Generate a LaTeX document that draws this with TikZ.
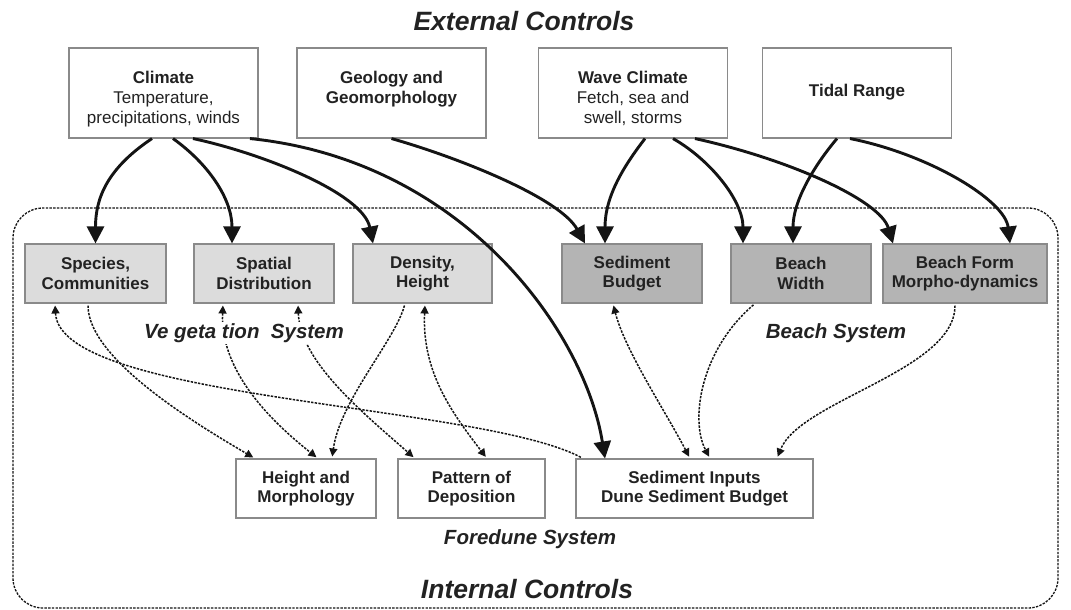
\documentclass[tikz,border=0pt]{standalone}
\usepackage{fontspec}
\setmainfont{Liberation Sans}
\usetikzlibrary{arrows.meta}

\definecolor{txt}{HTML}{222222}
\definecolor{ink}{HTML}{141414}
\definecolor{boxline}{HTML}{8A8A8A}
\definecolor{veggray}{HTML}{DCDCDC}
\definecolor{beachgray}{HTML}{B4B4B4}

\begin{document}
\begin{tikzpicture}[x=1pt,y=-1pt,
  box/.style={draw=boxline, line width=1.1pt, align=center, inner sep=0pt, text=txt},
  ext/.style={box, fill=white, minimum width=189pt, minimum height=90pt},
  exttext/.style={align=center, inner sep=0pt, text=txt, anchor=north,
    font=\fontsize{17}{20}\selectfont},
  veg/.style={box, fill=veggray, minimum height=59pt,
    font=\fontsize{17}{19.5}\selectfont\bfseries},
  bch/.style={veg, fill=beachgray},
  fdn/.style={veg, fill=white},
  sys/.style={font=\fontsize{20.5}{24}\selectfont\bfseries\itshape, text=txt, inner sep=1pt},
  ttl/.style={font=\fontsize{26.5}{30}\selectfont\bfseries\itshape, text=txt},
  strong/.style={draw=ink, line width=2.9pt, >={Triangle[length=17pt,width=17pt]}, ->},
  weak/.style={draw=ink, line width=1.5pt, dash pattern=on 2.4pt off 1.3pt,
    >={Triangle[length=8pt,width=8pt]}, shorten >=2pt, shorten <=2pt},
  zone/.style={draw=ink, line width=1.3pt, dash pattern=on 2.4pt off 1.3pt}
]
\useasboundingbox (0,0) rectangle (1071,610);

% internal controls region
\draw[zone, rounded corners=30pt] (13,208) rectangle (1058,608);

% external controls
\node[ext] (clim) at (163.5,93) {};
\node[ext] (geol) at (391.5,93) {};
\node[ext] (wave) at (633,93) {};
\node[ext] (tide) at (857,93) {};
\node[exttext] (climt) at ([yshift=-24pt]clim.north) {\textbf{Climate}\\Temperature,\\precipitations, winds};
\node[exttext] (geolt) at ([yshift=-24pt]geol.north) {\textbf{Geology and}\\\textbf{Geomorphology}};
\node[exttext] (wavet) at ([yshift=-24pt]wave.north) {\textbf{Wave Climate}\\Fetch, sea and\\swell, storms};
\node[exttext, anchor=center] (tidet) at ([yshift=1pt]tide.center) {\textbf{Tidal Range}};

% vegetation system
\node[veg, minimum width=141pt] (spec) at (95.5,273.5) {Species,\\Communities};
\node[veg, minimum width=140pt] (spat) at (264,273.5) {Spatial\\Distribution};
\node[veg, minimum width=139pt] (dens) at (422.5,273.5) {Density,\\Height};

% beach system
\node[bch, minimum width=140pt] (sbud) at (632,273.5) {Sediment\\Budget};
\node[bch, minimum width=140pt] (bwid) at (801,273.5) {Beach\\Width};
\node[bch, minimum width=164pt] (bfrm) at (965,273.5) {Beach Form\\Morpho-dynamics};

% foredune system
\node[fdn, minimum width=140pt] (hmor) at (306,488.5) {Height and\\Morphology};
\node[fdn, minimum width=147pt] (patt) at (471.5,488.5) {Pattern of\\Deposition};
\node[fdn, minimum width=237pt] (sinp) at (694.5,488.5) {Sediment Inputs\\Dune Sediment Budget};

% external forcing
\draw[strong] ([xshift=-11.5pt]clim.south) .. controls +(-45,30) and +(0,-45) .. (spec.north);
\draw[strong] ([xshift=9.5pt]clim.south) .. controls +(35,25) and +(0,-45) .. ([xshift=-32pt]spat.north);
\draw[strong] ([xshift=29.5pt]clim.south) .. controls +(70,15) and +(-10,-50) .. ([xshift=-49.5pt]dens.north);
\draw[strong] ([xshift=86.5pt]clim.south) .. controls +(215,22) and +(-20,-125) .. ([xshift=-89.5pt]sinp.north);
\draw[strong] (geol.south) .. controls +(70,20) and +(-25,-45) .. ([xshift=-47pt]sbud.north);
\draw[strong] ([xshift=12pt]wave.south) .. controls +(-20,26) and +(0,-48) .. ([xshift=-27pt]sbud.north);
\draw[strong] ([xshift=40pt]wave.south) .. controls +(37,21) and +(0,-43) .. ([xshift=-58pt]bwid.north);
\draw[strong] ([xshift=62pt]wave.south) .. controls +(95,21) and +(-13,-43) .. ([xshift=-72pt]bfrm.north);
\draw[strong] ([xshift=-20pt]tide.south) .. controls +(-22,26) and +(0,-43) .. ([xshift=-8pt]bwid.north);
\draw[strong] ([xshift=-7pt]tide.south) .. controls +(80,16) and +(-5,-43) .. ([xshift=45pt]bfrm.north);

% internal interactions
\draw[weak, ->] ([xshift=-7.5pt]spec.south) .. controls +(0,55) and +(-60,-35) .. ([xshift=-51pt]hmor.north);
\draw[weak, <-] ([xshift=-40.5pt]spec.south) .. controls +(5,97) and +(-103,-55) .. ([xshift=-111.5pt]sinp.north);
\draw[weak, <->] ([xshift=-41pt]spat.south) .. controls +(-3,67) and +(-48,-38) .. ([xshift=12pt]hmor.north);
\draw[weak, <->] ([xshift=34pt]spat.south) .. controls +(2,57) and +(-55,-48) .. ([xshift=-56.5pt]patt.north);
\draw[weak, ->] ([xshift=-17.5pt]dens.south) .. controls +(-10,37) and +(8,-58) .. ([xshift=26pt]hmor.north);
\draw[weak, <->] ([xshift=2.5pt]dens.south) .. controls +(-3,67) and +(-37,-48) .. ([xshift=15.5pt]patt.north);
\draw[weak, <->] ([xshift=-19pt]sbud.south) .. controls +(12,47) and +(-25,-48) .. ([xshift=-4.5pt]sinp.north);
\draw[weak, ->] ([xshift=-46pt]bwid.south) .. controls +(-55,47) and +(-20,-38) .. ([xshift=15.5pt]sinp.north);
\draw[weak, ->] ([xshift=-10pt]bfrm.south) .. controls +(0,67) and +(23,-58) .. ([xshift=82.5pt]sinp.north);

% labels
\node[ttl] (extl) at (524,21) {External Controls};
\node[ttl] (intl) at (527,589) {Internal Controls};
\node[sys, fill=white] (vegl) at (244,333) {Ve geta tion\ \ System};
\node[sys] (bchl) at (836,333) {Beach System};
\node[sys] (fdnl) at (530,539) {Foredune System};
\end{tikzpicture}
\end{document}
